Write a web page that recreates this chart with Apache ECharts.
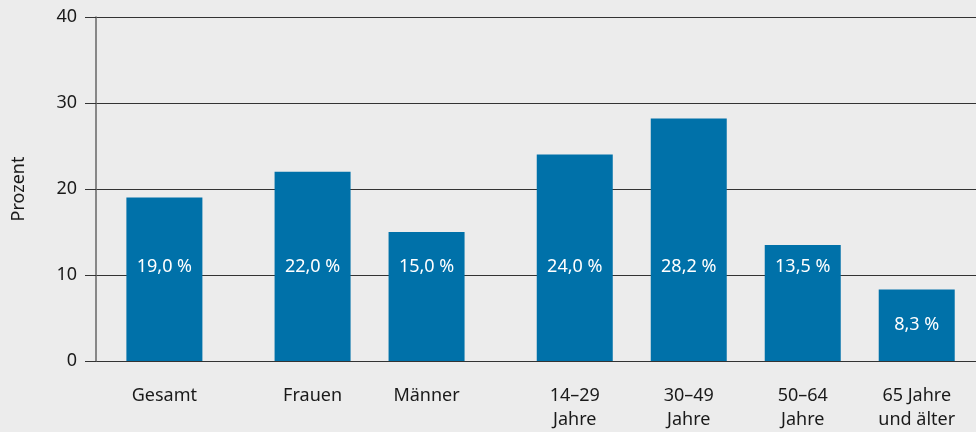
<!DOCTYPE html>
<html>
<head>
<meta charset="utf-8">
<script src="https://cdn.jsdelivr.net/npm/echarts@6/dist/echarts.min.js"></script>
<style>
  html, body { margin: 0; padding: 0; background: #ececec; }
  #chart { width: 976px; height: 432px; }
</style>
</head>
<body>
<div id="chart"></div>
<script>
// Data
const groups = [
  ['Gesamt'],
  ['Frauen', 'Männer'],
  ['14–29\nJahre', '30–49\nJahre', '50–64\nJahre', '65 Jahre\nund älter']
]
const values = [19.0, 22.0, 15.0, 24.0, 28.2, 13.5, 8.3]
const yTicks = [0, 10, 20, 30, 40]

// Layout: slots along a hidden value axis, extra space between groups
const categories = []
const slots = []
let pos = 6
groups.forEach((g, gi) => {
  if (gi > 0) pos += 3
  g.forEach((name, i) => {
    if (i > 0 || gi > 0) pos += 10
    categories.push(name)
    slots.push(pos)
  })
})

const fmt = v => v.toFixed(1).replace('.', ',') + ' %'

const chart = echarts.init(document.getElementById('chart'))
chart.setOption({
  backgroundColor: '#ececec',
  animation: false,
  textStyle: { fontFamily: 'Noto Sans' },
  grid: { left: 96, right: 0, top: 17, bottom: 70 },
  xAxis: {
    type: 'value',
    min: 0,
    max: 77.2,
    axisLine: { show: false },
    axisTick: { show: false },
    splitLine: { show: false },
    axisLabel: {
      customValues: slots,
      formatter: v => categories[slots.indexOf(v)] || '',
      fontSize: 18,
      lineHeight: 24,
      color: '#1a1a1a',
      margin: 23
    }
  },
  yAxis: {
    type: 'value',
    min: yTicks[0],
    max: yTicks[yTicks.length - 1],
    interval: 10,
    name: 'Prozent',
    nameLocation: 'middle',
    nameRotate: 90,
    nameGap: 68,
    nameTextStyle: { fontSize: 18, color: '#1a1a1a' },
    axisLine: { show: true, lineStyle: { color: '#666', width: 1.5 } },
    axisTick: { show: true, length: 11, lineStyle: { color: '#333' } },
    axisLabel: { fontSize: 18, color: '#1a1a1a', margin: 19 },
    splitLine: { lineStyle: { color: '#333', width: 1 } }
  },
  series: [{
    type: 'bar',
    barWidth: 76,
    itemStyle: { color: '#0071a9' },
    data: values.map((v, i) => ({
      value: [slots[i], v],
      label: v < 12 ? { position: 'inside' } : { position: 'insideBottom', distance: 84 }
    })),
    label: {
      show: true,
      color: '#fff',
      fontSize: 18,
      lineHeight: 20,
      formatter: p => fmt(p.value[1])
    }
  }]
})
</script>
</body>
</html>
